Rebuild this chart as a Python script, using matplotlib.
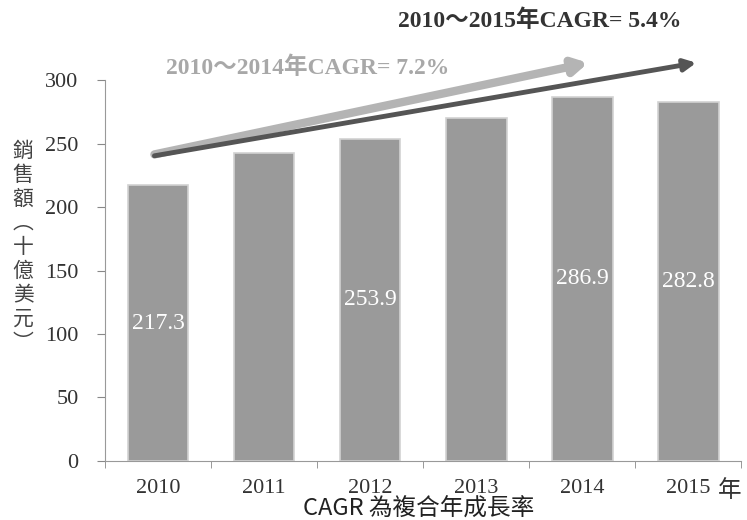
import matplotlib.pyplot as plt
import numpy as np

plt.rcParams['font.family'] = ['Liberation Serif', 'Noto Sans CJK TC', 'DejaVu Sans']

years = ['2010', '2011', '2012', '2013', '2014', '2015']
sales = [217.3, 242.5, 253.9, 270.0, 286.9, 282.8]
labels = ['217.3', '', '253.9', '', '286.9', '282.8']
ylabel = '銷售額︵十億美元︶'

fig = plt.figure(figsize=(7.47, 5.2), dpi=100)
ax = fig.add_axes([0.1406, 0.1135, 0.852, 0.7325])

x = np.arange(len(years))
ax.bar(x, sales, width=0.57, color='#9a9a9a', edgecolor='#d2d2d2', linewidth=1.2, zorder=2)

for xi, v, lab in zip(x, sales, labels):
    if lab:
        ax.text(xi, v / 2, lab, ha='center', va='center', color='white', fontsize=17)

ax.set_xlim(-0.5, len(years) - 0.5)
ax.set_ylim(0, 300)
ax.set_yticks(range(0, 301, 50))
ax.set_xticks(x)
ax.set_xticklabels(years, fontsize=16, color='#333333')
ax.set_xticks(np.arange(-0.5, len(years), 1), minor=True)
ax.tick_params(axis='x', which='major', length=0, pad=13)
ax.tick_params(axis='x', which='minor', length=5, color='#888888')
ax.tick_params(axis='y', labelsize=16, labelcolor='#333333', length=6, color='#888888', pad=13)

for s in ['top', 'right']:
    ax.spines[s].set_visible(False)
ax.spines['left'].set_color('#999999')
ax.spines['bottom'].set_color('#999999')

# unit after last year label
ax.text(1.0, -0.078, '年', transform=ax.transAxes, ha='right', va='center',
        fontsize=17, color='#333333', family=['Noto Sans CJK TC'])

# vertical y label
fig.text(0.031, 0.525, '\n'.join(ylabel), ha='center', va='center', fontsize=15,
         color='#444444', family=['Noto Sans CJK TC'], linespacing=1.12)

# CAGR arrows
ax.annotate('', xy=(4.08, 314), xytext=(-0.06, 241), annotation_clip=False,
            arrowprops=dict(arrowstyle='-|>,head_length=0.8,head_width=0.45', lw=6,
                            color='#b4b4b4'))
ax.annotate('', xy=(5.1, 314), xytext=(-0.06, 240), annotation_clip=False,
            arrowprops=dict(arrowstyle='-|>,head_length=0.7,head_width=0.35', lw=3.5,
                            color='#555555'))

fig.text(0.222, 0.87, '2010～2014年CAGR= 7.2%', fontsize=17, fontweight='bold',
         color='#a8a8a8', ha='left', va='center')
fig.text(0.533, 0.96, '2010～2015年CAGR= 5.4%', fontsize=17, fontweight='bold',
         color='#333333', ha='left', va='center')

fig.text(0.56, 0.02, 'CAGR 為複合年成長率', fontsize=17, color='#222222',
         ha='center', va='center', family=['Noto Sans CJK TC'])

fig.savefig('out.png', dpi=100)
